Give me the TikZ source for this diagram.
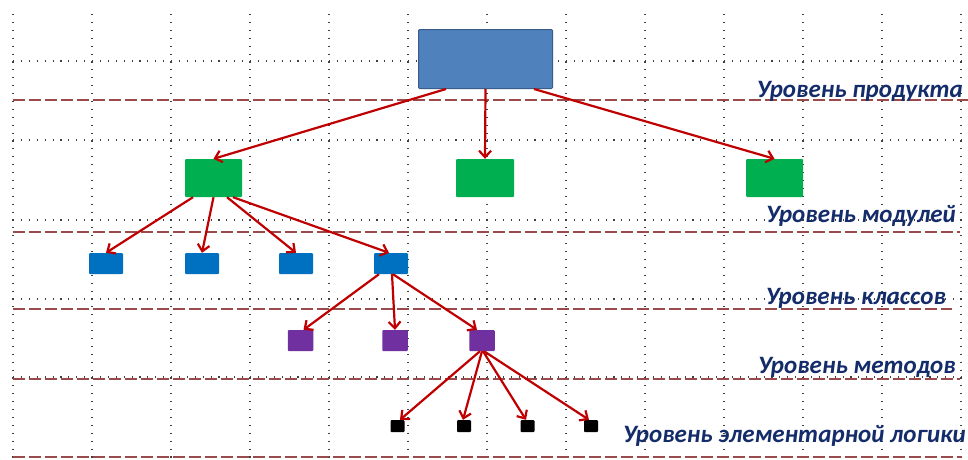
\documentclass[tikz,border=0pt]{standalone}
\usepackage{fontspec}
\setmainfont{Carlito}
\usetikzlibrary{arrows.meta}
\definecolor{arrred}{HTML}{C00000}
\definecolor{dashred}{HTML}{9A4A4A}
\definecolor{navy}{HTML}{142C6A}
\definecolor{topblue}{HTML}{4F81BD}
\definecolor{topedge}{HTML}{385D8A}
\definecolor{grn}{HTML}{00B050}
\definecolor{clsblue}{HTML}{0070C0}
\definecolor{purp}{HTML}{7030A0}
\tikzset{
  gridline/.style={black!75, line width=1.1pt, dash pattern=on 1.1pt off 6.8pt},
  levelline/.style={dashred, line width=1.3pt, dash pattern=on 12pt off 4pt},
  box/.style={draw=none, inner sep=0pt, rounded corners=1pt},
  arr/.style={arrred, line width=2.2pt, -{Straight Barb[length=6.5pt,width=12pt,line width=2.2pt]}},
  lbl/.style={text=navy, inner sep=0pt, anchor=base east, font=\fontsize{25}{29}\selectfont\bfseries\itshape}
}
\begin{document}
\begin{tikzpicture}[x=1pt,y=-1pt]
\useasboundingbox[fill=white] (0,0) rectangle (968,459);
% dotted grid
\foreach \i in {0,...,12} {
  \draw[gridline] (13+79*\i,14) -- (13+79*\i,459);
}
\foreach \yy in {61,140,220,299,377} {
  \draw[gridline] (13,\yy) -- (962,\yy);
}
% level dashed lines
\draw[levelline] (13,100) -- (968,100);
\draw[levelline] (13,232) -- (960,232);
\draw[levelline] (13,309) -- (952,309);
\draw[levelline] (13,379) -- (960,379);
\draw[levelline] (13,457) -- (962,457);
% nodes
\node[box, fill=topblue, draw=topedge, line width=1pt, minimum width=134pt, minimum height=59pt] (top) at (485.5,59) {};
\node[box, fill=grn, minimum width=57pt, minimum height=38pt] (g1) at (213.5,178) {};
\node[box, fill=grn, minimum width=58pt, minimum height=38pt] (g2) at (485,178) {};
\node[box, fill=grn, minimum width=57pt, minimum height=38pt] (g3) at (774.5,178) {};
\node[box, fill=clsblue, minimum width=34pt, minimum height=21pt] (b1) at (106,263.5) {};
\node[box, fill=clsblue, minimum width=34pt, minimum height=21pt] (b2) at (202,263.5) {};
\node[box, fill=clsblue, minimum width=34pt, minimum height=21pt] (b3) at (296,263.5) {};
\node[box, fill=clsblue, minimum width=34pt, minimum height=21pt] (b4) at (391,263.5) {};
\node[box, fill=purp, minimum width=25.5pt, minimum height=21pt] (p1) at (300.5,340.5) {};
\node[box, fill=purp, minimum width=25.5pt, minimum height=21pt] (p2) at (395,340.5) {};
\node[box, fill=purp, minimum width=25.5pt, minimum height=21pt] (p3) at (482,340.5) {};
\node[box, fill=black, minimum width=14pt, minimum height=12pt] (k1) at (397.5,426) {};
\node[box, fill=black, minimum width=14pt, minimum height=12pt] (k2) at (464,426) {};
\node[box, fill=black, minimum width=14pt, minimum height=12pt] (k3) at (527.5,426) {};
\node[box, fill=black, minimum width=14pt, minimum height=12pt] (k4) at (591,426) {};
% arrows
\draw[arr] ([xshift=-39.5pt]top.south) -- (g1.north);
\draw[arr] (top.south) -- (g2.north);
\draw[arr] ([xshift=48.5pt]top.south) -- (g3.north);
\draw[arr] ([xshift=-20.5pt]g1.south) -- (b1.north);
\draw[arr] (g1.south) -- (b2.north);
\draw[arr] ([xshift=13.5pt]g1.south) -- (b3.north);
\draw[arr] ([xshift=19.5pt]g1.south) -- ([xshift=-2pt]b4.north);
\draw[arr] ([xshift=-12pt]b4.south) -- ([xshift=3pt]p1.north);
\draw[arr] ([xshift=1pt]b4.south) -- (p2.north);
\draw[arr] ([xshift=2pt]b4.south) -- ([xshift=-5pt]p3.north);
\draw[arr] ([xshift=-2pt]p3.south) -- ([xshift=2.5pt]k1.north);
\draw[arr] (p3.south) -- ([xshift=-1pt]k2.north);
\draw[arr] ([xshift=1pt]p3.south) -- ([xshift=-1.5pt]k3.north);
\draw[arr] ([xshift=2pt]p3.south) -- ([xshift=-2pt]k4.north);
% labels
\node[lbl] (l1) at (963,97) {Уровень продукта};
\node[lbl] (l2) at (956,222) {Уровень модулей};
\node[lbl] (l3) at (946,304) {Уровень классов};
\node[lbl] (l4) at (956,373) {Уровень методов};
\node[lbl] (l5) at (966,442) {Уровень элементарной логики};
\end{tikzpicture}
\end{document}
